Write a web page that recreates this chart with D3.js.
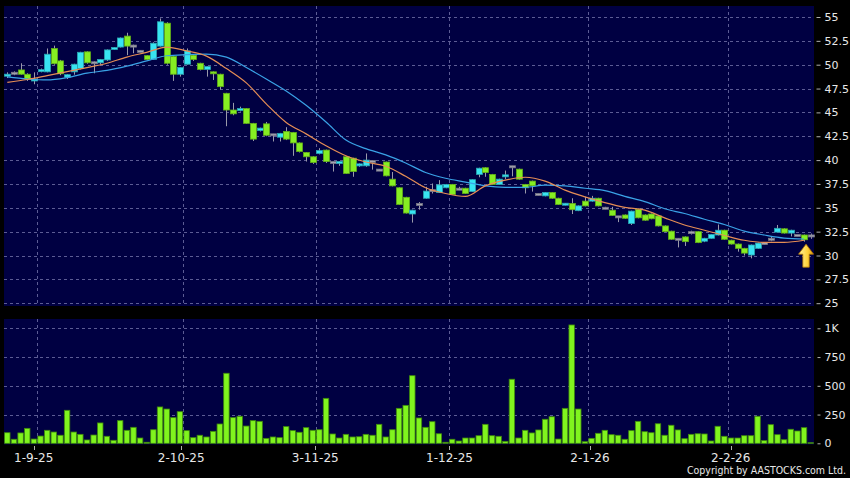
<!DOCTYPE html>
<html><head><meta charset="utf-8">
<script src="https://cdn.jsdelivr.net/npm/d3@7"></script>
<style>html,body{margin:0;padding:0;background:#000;}svg{display:block;}</style>
</head><body><svg id="c" width="850" height="478"></svg>
<script>
// ---- data ----
const opens = [48.8,49.1,49.45,49.0,48.3,49.3,49.25,51.7,50.4,48.7,49.25,49.6,51.35,50.2,50.2,50.5,51.6,51.85,53.0,51.95,51.4,50.95,50.55,51.95,54.35,50.85,49.0,50.05,51.0,50.15,49.5,49.25,49.0,47.0,45.25,45.2,45.4,43.85,43.1,43.8,42.65,42.4,43.0,42.9,41.8,40.8,40.35,40.7,41.05,39.75,39.65,40.35,40.2,39.4,39.4,39.85,38.95,39.8,38.0,37.1,36.1,34.35,35.35,36.0,36.8,36.6,37.1,37.45,36.95,37.05,36.7,38.5,39.2,38.5,37.45,38.25,39.3,39.05,37.45,37.8,36.4,36.25,36.6,36.0,35.3,35.45,34.7,35.7,35.7,36.0,34.95,34.75,34.05,34.25,33.35,34.85,34.25,34.35,34.15,33.1,32.55,31.7,31.95,32.4,32.5,31.5,31.8,32.15,32.65,31.6,31.2,30.75,30.05,30.75,31.25,31.7,32.45,32.8,32.35,32.1,32.15,32.05];
const highs = [49.2,49.3,50.15,49.1,49.2,49.6,51.7,52.0,50.5,49.0,50.1,51.35,51.4,50.35,50.6,51.6,51.85,52.85,53.35,52.1,51.5,51.0,52.35,54.85,54.45,51.0,49.75,51.7,51.1,50.2,49.85,49.3,49.05,47.05,46.0,45.6,45.45,43.9,43.4,44.0,42.75,42.85,43.45,42.95,41.85,40.85,40.4,41.25,41.1,39.85,39.9,40.4,40.25,39.65,40.7,39.95,39.05,39.85,38.75,37.15,36.15,34.8,35.6,37.2,37.55,37.9,37.5,37.5,37.2,37.1,38.0,39.2,39.25,38.55,38.05,38.9,39.4,39.1,37.5,37.85,36.5,36.65,36.65,36.05,35.5,36.0,35.25,36.15,36.25,36.05,35.1,35.1,34.15,34.3,34.7,34.9,34.3,34.4,34.2,33.15,32.6,31.8,32.0,32.6,32.55,31.85,32.25,33.25,32.7,31.65,31.25,30.8,31.15,31.35,31.35,31.95,33.2,32.85,32.7,32.15,32.2,32.3];
const lows = [48.6,48.9,48.95,48.3,47.95,49.2,49.2,50.0,48.9,48.5,48.95,49.5,50.1,49.1,50.0,50.4,51.55,51.8,51.0,51.2,51.3,50.5,50.5,51.9,50.0,48.3,48.75,50.0,50.4,49.4,48.75,48.4,47.4,43.55,44.7,45.1,43.8,42.0,43.0,42.5,41.95,41.95,42.1,40.45,40.8,39.85,39.6,40.6,39.7,38.8,39.4,38.55,38.25,39.3,39.3,39.0,38.85,38.3,37.25,35.3,34.4,33.45,34.8,35.95,36.5,36.55,37.05,36.35,36.85,36.45,36.65,38.2,38.25,37.4,37.4,38.0,38.3,37.95,36.5,36.7,36.3,36.2,35.95,35.3,35.25,34.35,34.65,35.15,35.65,35.15,34.85,34.15,33.5,33.85,33.2,33.9,33.65,33.8,33.05,32.45,31.65,30.85,31.0,32.2,31.3,31.4,31.75,32.1,31.65,31.15,30.4,30.0,29.7,30.7,31.15,31.5,32.4,32.3,32.0,32.0,31.45,31.75];
const closes = [49.0,49.1,49.0,48.5,48.5,49.45,51.1,50.1,49.05,48.95,50.05,51.3,50.2,50.2,50.55,51.55,51.8,52.8,51.95,51.95,51.4,50.55,52.25,54.5,50.15,49.0,49.7,51.45,50.55,49.5,49.8,49.05,47.7,45.25,44.85,45.4,43.85,42.2,43.35,42.6,42.65,42.8,42.2,41.8,40.9,40.35,39.75,41.0,39.85,39.75,39.85,38.6,38.8,39.6,40.0,39.85,38.95,38.35,37.3,35.35,34.45,34.75,35.35,36.75,36.8,37.4,37.45,36.4,36.95,36.5,37.95,39.15,38.7,37.45,38.0,38.45,39.3,38.0,37.1,37.3,36.4,36.6,36.0,35.35,35.45,34.8,35.2,35.2,36.0,35.2,34.95,34.2,34.05,33.9,34.65,33.95,33.7,33.85,33.1,32.5,31.7,31.7,31.45,32.4,31.35,31.8,32.2,32.65,31.7,31.2,30.75,30.25,31.1,31.3,31.25,31.7,32.85,32.35,32.65,32.1,31.65,32.05];
const volumes = [92,35,90,130,37,63,113,98,70,287,98,78,29,72,177,61,26,197,113,139,46,9,118,316,298,223,275,110,49,70,55,104,168,609,223,235,150,197,191,43,55,49,145,110,96,136,113,118,391,81,46,78,55,57,78,70,165,55,118,304,330,588,220,139,188,83,9,35,20,46,46,66,165,66,61,17,557,46,113,90,116,209,231,37,304,1029,298,14,43,87,113,75,70,35,110,191,101,92,170,70,157,116,40,78,83,81,20,148,61,46,46,66,66,235,23,162,75,31,122,107,136,5];
const maIdx = [0,3,6,9,12,15,18,21,24,27,30,33,36,39,42,45,48,51,54,57,60,63,66,69,72,75,78,81,84,87,90,93,96,99,102,105,108,111,114,117,120];
const maShort = [48.15,48.45,48.85,49.27,49.7,50.15,50.8,51.3,51.85,51.45,50.9,49.6,48.1,45.9,43.95,42.75,41.5,40.45,39.8,39.35,38.3,37.1,36.5,36.2,37.3,37.9,38.2,37.8,36.85,36.15,35.55,35.05,34.75,33.95,33.2,32.65,32.1,31.6,31.38,31.38,31.6];
const maLong = [48.72,48.5,48.4,48.65,49.12,49.4,49.85,50.4,50.94,51.05,51.1,50.8,49.7,48.5,47.25,45.75,44.0,42.1,41.2,40.55,39.7,38.7,38.1,37.7,37.3,37.15,37.15,37.37,37.3,37.05,36.8,36.2,35.65,34.9,34.4,33.8,33.25,32.55,32.15,31.83,31.73];
const priceTicks = [25,27.5,30,32.5,35,37.5,40,42.5,45,47.5,50,52.5,55];
const volTicks = [0,250,500,750,1000];
const dateLabels = ["1-9-25","2-10-25","3-11-25","1-12-25","2-1-26","2-2-26"];
const dateTickIdx = [3.97,26.19,46.38,66.6,87.75,108.95];
const dateGridIdx = [4.5,26.5,46.5,66.5,87.5,108.5];
const markIdx = 120;

// ---- drawing ----
const W = 850, H = 478;
const svg = d3.select("#c");
svg.append("rect").attr("width", W).attr("height", H).attr("fill", "#000");

const n = opens.length;
const x = d3.scaleLinear().domain([-0.5, n - 0.5]).range([4, 814]);
const yP = d3.scaleLinear().domain([25, 55]).range([303.2, 17]);
const yV = d3.scaleLinear().domain([0, 1000]).range([443.3, 328.3]);
const step = x(1) - x(0);

const pTop = 6, pBot = 306, vTop = 319, vBot = 444.5;
const PANEL = "#000042", GRID = "#5c5c94";

svg.append("rect").attr("x", x.range()[0]).attr("y", pTop).attr("width", x.range()[1] - x.range()[0]).attr("height", pBot - pTop).attr("fill", PANEL);
svg.append("rect").attr("x", x.range()[0]).attr("y", vTop).attr("width", x.range()[1] - x.range()[0]).attr("height", vBot - vTop).attr("fill", PANEL);

// grids
const g = svg.append("g").attr("stroke", GRID).attr("stroke-width", 1).attr("stroke-dasharray", "3,3").attr("shape-rendering", "crispEdges");
g.selectAll(".hp").data(priceTicks).join("line")
  .attr("x1", x.range()[0]).attr("x2", x.range()[1])
  .attr("y1", d => Math.round(yP(d)) + 0.5).attr("y2", d => Math.round(yP(d)) + 0.5);
g.selectAll(".hv").data(volTicks.filter(d => d > 0)).join("line")
  .attr("x1", x.range()[0]).attr("x2", x.range()[1])
  .attr("y1", d => Math.round(yV(d)) + 0.5).attr("y2", d => Math.round(yV(d)) + 0.5);
dateGridIdx.forEach(i => {
  const xx = Math.round(x(i)) + 0.5;
  g.append("line").attr("x1", xx).attr("x2", xx).attr("y1", pTop).attr("y2", pBot);
  g.append("line").attr("x1", xx).attr("x2", xx).attr("y1", vTop).attr("y2", vBot);
});

// candles
const idx = d3.range(n);
const UP = "#38e4f2", DN = "#86ee22", FLAT = "#a4a4b4";
const col = i => closes[i] > opens[i] ? UP : (closes[i] < opens[i] ? DN : FLAT);
const cg = svg.append("g");
cg.selectAll("line").data(idx).join("line")
  .attr("x1", i => Math.round(x(i)) + 0.5).attr("x2", i => Math.round(x(i)) + 0.5)
  .attr("y1", i => yP(highs[i])).attr("y2", i => yP(lows[i]))
  .attr("stroke", "#9a9aaa").attr("stroke-width", 1);
cg.selectAll("rect").data(idx).join("rect")
  .attr("x", i => Math.round(x(i)) - 2.5)
  .attr("width", 6)
  .attr("y", i => { const t = yP(Math.max(opens[i], closes[i])), b = yP(Math.min(opens[i], closes[i])); return b - t < 2 ? (t + b) / 2 - 1 : t; })
  .attr("height", i => Math.max(2, yP(Math.min(opens[i], closes[i])) - yP(Math.max(opens[i], closes[i]))))
  .attr("fill", col)
  .attr("stroke", i => d3.color(col(i)).darker(0.9))
  .attr("stroke-width", 0.8);

// moving averages
const line = d3.line().x(d => x(d[0])).y(d => yP(d[1])).curve(d3.curveMonotoneX);
svg.append("path").datum(maIdx.map((k, j) => [k, maLong[j]])).attr("d", line)
  .attr("fill", "none").attr("stroke", "#3aa2e6").attr("stroke-width", 1.2);
svg.append("path").datum(maIdx.map((k, j) => [k, maShort[j]])).attr("d", line)
  .attr("fill", "none").attr("stroke", "#e58d55").attr("stroke-width", 1.2);

// arrow marker
const defs = svg.append("defs");
const grad = defs.append("linearGradient").attr("id", "ag").attr("x1", 0).attr("x2", 1).attr("y1", 0).attr("y2", 0);
grad.append("stop").attr("offset", "0%").attr("stop-color", "#fff3a0");
grad.append("stop").attr("offset", "60%").attr("stop-color", "#ffd23a");
grad.append("stop").attr("offset", "100%").attr("stop-color", "#e09a10");
const ax = x(markIdx) + 2, at = yP(lows[markIdx]) + 2.5;
svg.append("path")
  .attr("d", `M${ax},${at} L${ax + 7.5},${at + 10} L${ax + 3.2},${at + 10} L${ax + 3.2},${at + 23} L${ax - 3.2},${at + 23} L${ax - 3.2},${at + 10} L${ax - 7.5},${at + 10} Z`)
  .attr("fill", "url(#ag)").attr("stroke", "#b87800").attr("stroke-width", 0.8);

// volume bars
svg.append("g").selectAll("rect").data(idx).join("rect")
  .attr("x", i => x(i) - step / 2 + 0.6)
  .attr("width", step - 1.2)
  .attr("y", i => yV(volumes[i]))
  .attr("height", i => yV(0) - yV(volumes[i]))
  .attr("fill", "#80f41e").attr("stroke", "#3f8a0c").attr("stroke-width", 0.8);

// axes
const FONT = "DejaVu Sans", TXT = "#e8e8e8", TICK = "#b0b0b0";
const fmtP = d => (d % 1 ? d.toFixed(1) : String(d));
const fmtV = d => (d >= 1000 ? (d / 1000) + "K" : String(d));
function styleAxis(sel, size) {
  sel.select(".domain").remove();
  sel.selectAll(".tick line").attr("stroke", TICK);
  sel.selectAll(".tick text").attr("fill", TXT).attr("font-family", FONT).attr("font-size", size);
}
svg.append("g").attr("transform", `translate(${x.range()[1] + 2.5},0)`)
  .call(d3.axisRight(yP).tickValues(priceTicks).tickFormat(fmtP).tickSize(4).tickPadding(4))
  .call(s => styleAxis(s, 11));
svg.append("g").attr("transform", `translate(${x.range()[1] + 3.5},0)`)
  .call(d3.axisRight(yV).tickValues(volTicks).tickFormat(fmtV).tickSize(3).tickPadding(4))
  .call(s => styleAxis(s, 11));

const xa = svg.append("g");
dateTickIdx.forEach((k, j) => {
  xa.append("line").attr("x1", Math.round(x(k)) + 0.5).attr("x2", Math.round(x(k)) + 0.5)
    .attr("y1", 446).attr("y2", 450).attr("stroke", TICK);
  xa.append("text").attr("x", x(k)).attr("y", 462).attr("text-anchor", "middle")
    .attr("fill", TXT).attr("font-family", FONT).attr("font-size", 12).text(dateLabels[j]);
});

svg.append("text").attr("x", 846).attr("y", 474).attr("text-anchor", "end")
  .attr("fill", TXT).attr("font-family", "DejaVu Sans Condensed, DejaVu Sans").attr("font-size", 10.5)
  .attr("textLength", 159).attr("lengthAdjust", "spacingAndGlyphs")
  .text("Copyright by AASTOCKS.com Ltd.");
</script></body></html>
